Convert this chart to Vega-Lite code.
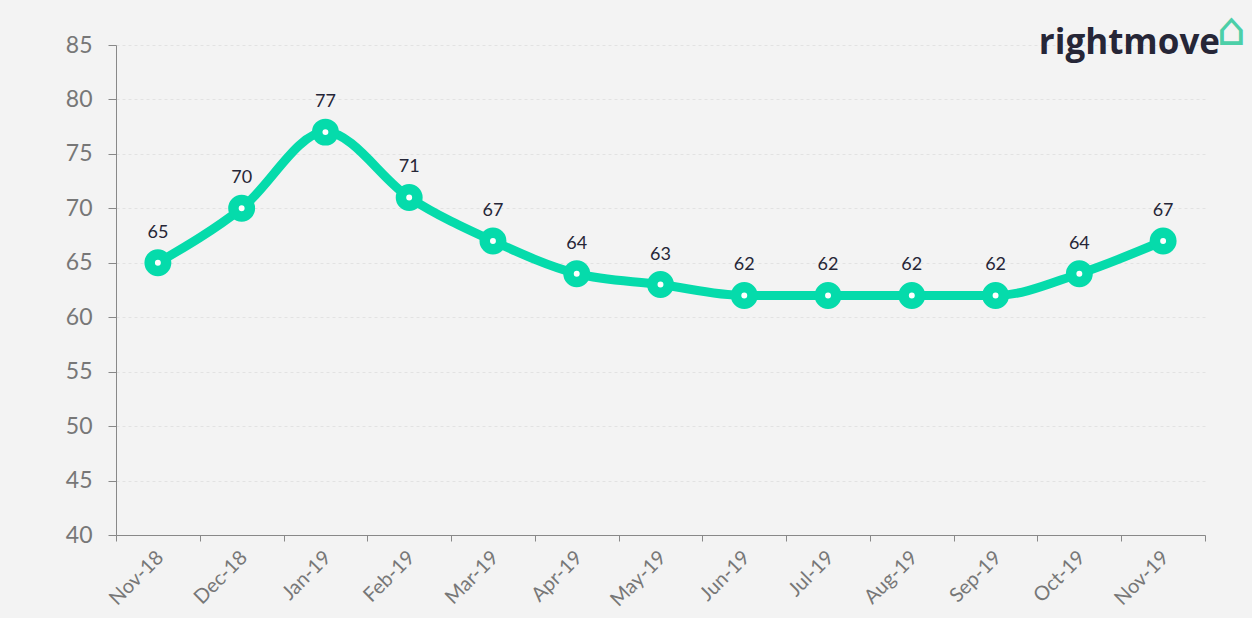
{
  "$schema": "https://vega.github.io/schema/vega-lite/v6.json",
  "width": 1089,
  "height": 490,
  "autosize": {"type": "none"},
  "padding": {"left": 116, "top": 45, "right": 47, "bottom": 83},
  "background": "#f3f3f3",
  "title": {
    "text": "rightmove\u2800",
    "subtitle": "⌂",
    "anchor": "end",
    "frame": "group",
    "orient": "top",
    "font": "Open Sans",
    "fontSize": 35,
    "fontWeight": 700,
    "color": "#262637",
    "subtitleFont": "DejaVu Sans",
    "subtitleFontSize": 46,
    "subtitleColor": "#4ccfa8",
    "subtitlePadding": -52,
    "offset": -12,
    "dx": 41,
    "dy": 33
  },
  "data": {
    "values": [
      {"month": "Nov-18", "value": 65},
      {"month": "Dec-18", "value": 70},
      {"month": "Jan-19", "value": 77},
      {"month": "Feb-19", "value": 71},
      {"month": "Mar-19", "value": 67},
      {"month": "Apr-19", "value": 64},
      {"month": "May-19", "value": 63},
      {"month": "Jun-19", "value": 62},
      {"month": "Jul-19", "value": 62},
      {"month": "Aug-19", "value": 62},
      {"month": "Sep-19", "value": 62},
      {"month": "Oct-19", "value": 64},
      {"month": "Nov-19", "value": 67}
    ]
  },
  "encoding": {
    "x": {
      "field": "month",
      "type": "ordinal",
      "sort": null,
      "scale": {"type": "band", "paddingInner": 0, "paddingOuter": 0},
      "axis": {
        "title": null,
        "tickBand": "extent",
        "labelAngle": -45,
        "labelFont": "Lato",
        "labelFontSize": 20,
        "labelColor": "#777777",
        "labelPadding": 6,
        "labelOffset": -5,
        "tickSize": 6,
        "tickColor": "#888888",
        "domainColor": "#888888",
        "grid": false
      }
    },
    "y": {
      "field": "value",
      "type": "quantitative",
      "scale": {"domain": [40, 85], "nice": false, "zero": false},
      "axis": {
        "title": null,
        "values": [40, 45, 50, 55, 60, 65, 70, 75, 80, 85],
        "labelFont": "Lato",
        "labelFontSize": 23,
        "labelColor": "#777777",
        "labelPadding": 16,
        "tickSize": 8,
        "tickColor": "#888888",
        "domainColor": "#888888",
        "grid": true,
        "gridColor": "#e2e2e2",
        "gridDash": [3, 3]
      }
    }
  },
  "layer": [
    {
      "mark": {"type": "line", "interpolate": "monotone", "color": "#05dbab", "strokeWidth": 9}
    },
    {
      "mark": {"type": "point", "filled": false, "fill": "#ffffff", "stroke": "#05dbab", "strokeWidth": 10.5, "size": 270, "opacity": 1}
    },
    {
      "mark": {"type": "text", "dy": -30, "font": "Lato", "fontSize": 18, "color": "#262637"},
      "encoding": {"text": {"field": "value", "type": "quantitative"}}
    }
  ],
  "config": {
    "view": {"stroke": null}
  }
}
